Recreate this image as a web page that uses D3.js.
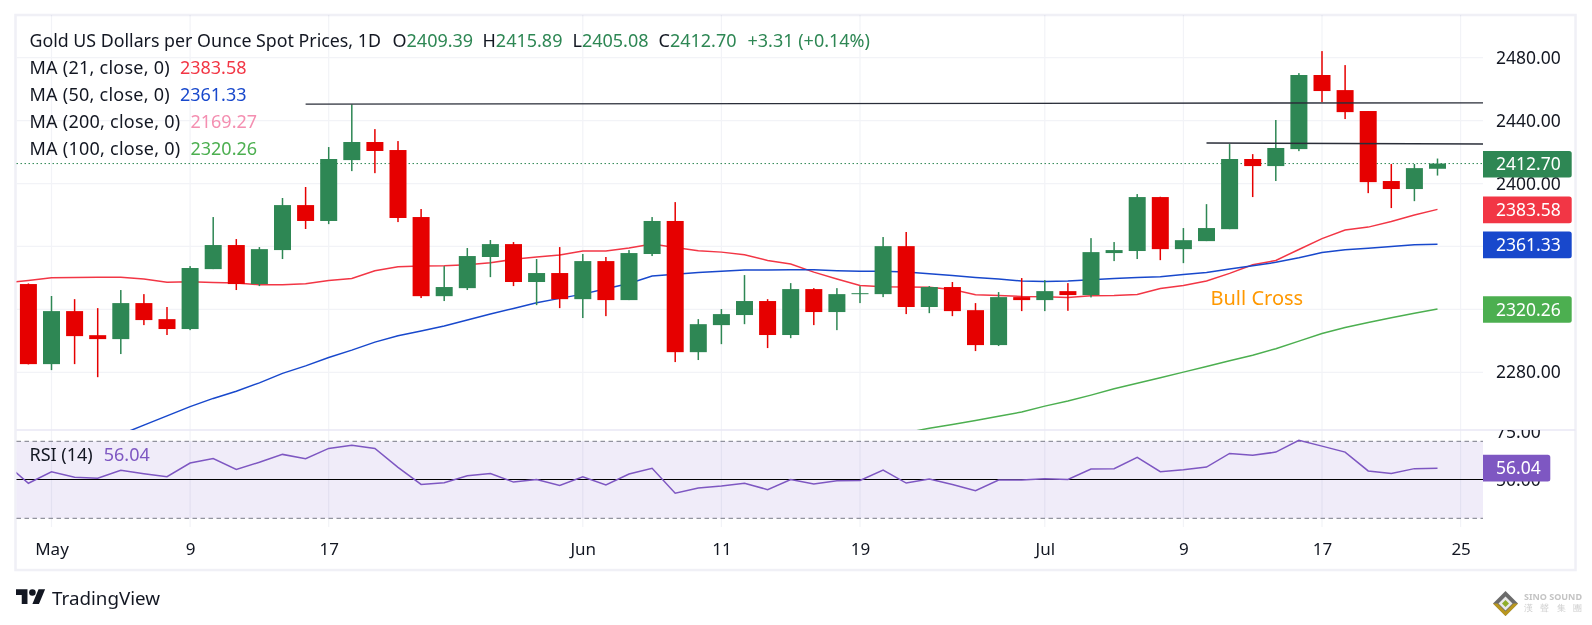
<!DOCTYPE html>
<html>
<head>
<meta charset="utf-8">
<script src="https://cdn.jsdelivr.net/npm/d3@7"></script>
<style>
  html, body { margin: 0; padding: 0; background: #fff; overflow: hidden; }
  text { font-family: "Noto Sans", sans-serif; }
</style>
</head>
<body>
<div id="chart"></div>
<script>
// candles: open, high, low, close, one row per session starting Apr 30
const opens = [2336.1,2285.2,2318.9,2303.6,2301.1,2324.0,2313.8,2307.5,2345.6,2360.9,2336.1,2357.7,2386.3,2376.2,2414.9,2426.4,2421.3,2378.7,2328.4,2333.5,2353.3,2361.5,2337.4,2343.1,2326.5,2350.7,2325.9,2355.2,2376.2,2292.8,2310.0,2316.4,2325.3,2303.7,2332.9,2318.3,2329.9,2329.7,2360.2,2321.5,2334.2,2319.5,2297.3,2327.8,2325.9,2331.6,2329.1,2355.8,2357.1,2391.4,2358.3,2363.4,2371.0,2415.6,2411.1,2421.9,2469.0,2459.4,2446.1,2401.6,2396.5,2409.39];
const highs = [2336.5,2328.5,2326.5,2320.8,2332.3,2329.7,2321.5,2347.5,2378.7,2364.7,2359.6,2390.8,2397.8,2423.2,2450.3,2434.6,2427.0,2383.8,2347.5,2359.0,2364.1,2362.8,2352.0,2359.6,2355.2,2353.3,2357.7,2378.7,2388.2,2313.8,2320.2,2341.8,2326.5,2336.7,2333.5,2333.5,2334.8,2366.0,2369.2,2334.8,2337.4,2324.0,2331.0,2339.9,2338.6,2336.7,2365.3,2362.8,2393.3,2391.6,2371.7,2386.9,2425.1,2418.7,2440.4,2470.2,2484.2,2475.3,2446.1,2412.4,2412.4,2415.89];
const lows = [2285.0,2281.4,2285.2,2276.9,2291.6,2310.0,2303.7,2306.8,2345.6,2332.3,2334.8,2352.0,2371.1,2374.2,2407.9,2406.6,2375.5,2327.2,2325.3,2332.3,2340.5,2334.8,2322.7,2320.8,2314.5,2315.7,2325.9,2353.9,2286.5,2287.8,2297.9,2310.6,2295.4,2301.7,2310.0,2306.8,2324.0,2327.8,2317.0,2317.6,2315.7,2293.5,2296.7,2318.9,2318.9,2319.1,2327.6,2350.7,2352.0,2351.3,2349.4,2363.4,2371.0,2391.4,2401.6,2420.6,2451.8,2441.0,2393.9,2384.4,2388.8,2405.08];
const closes = [2285.2,2318.9,2303.0,2301.1,2324.0,2313.2,2307.5,2346.3,2360.9,2336.1,2358.3,2386.3,2376.2,2415.6,2426.4,2420.7,2378.1,2328.4,2334.2,2353.9,2361.5,2337.4,2343.1,2326.5,2350.7,2325.9,2355.8,2376.2,2292.8,2310.6,2317.0,2325.3,2303.7,2332.9,2318.3,2329.7,2330.3,2360.2,2321.5,2334.2,2318.9,2297.3,2327.8,2325.9,2331.6,2329.1,2356.4,2357.7,2391.4,2358.3,2364.0,2371.7,2415.6,2411.1,2422.6,2469.0,2458.8,2445.4,2400.9,2396.5,2409.8,2412.70];

// moving averages, each with the session index of its first value
const ma21Start = -1;
const ma21 = [2336.9,2338.4,2340.1,2340.2,2340.5,2340.5,2339.3,2337.3,2337.6,2337.1,2336.7,2335.7,2335.7,2336.3,2338.4,2339.7,2344.5,2347.1,2347.5,2347.7,2348.4,2349.6,2351.8,2353.3,2354.5,2357.1,2357.1,2359.0,2361.5,2359.4,2357.3,2356.4,2354.7,2351.1,2348.8,2343.7,2339.3,2335.2,2334.4,2334.2,2334.0,2332.7,2329.3,2328.9,2328.2,2328.0,2327.6,2328.7,2328.9,2329.5,2333.3,2335.2,2338.0,2342.9,2348.4,2351.1,2358.1,2365.0,2370.4,2372.3,2375.9,2380.0,2383.58];
const ma50Start = 3;
const ma50 = [2235.0,2240.5,2246.4,2252.3,2258.2,2263.4,2268.0,2273.3,2279.3,2284.1,2289.4,2294.1,2299.2,2303.2,2306.2,2309.4,2313.2,2317.0,2320.6,2324.2,2327.0,2329.7,2333.1,2336.5,2341.2,2342.4,2343.5,2344.3,2345.0,2345.1,2345.2,2345.2,2344.6,2344.3,2344.3,2343.7,2342.7,2341.6,2340.3,2339.3,2338.0,2337.8,2338.0,2338.8,2339.7,2340.3,2340.8,2342.2,2343.5,2345.6,2347.8,2349.9,2352.8,2356.1,2357.9,2358.8,2360.0,2361.1,2361.33];
const ma100Start = 38;
const ma100 = [2241.5,2244.5,2246.8,2249.4,2252.1,2254.7,2258.5,2261.7,2265.5,2269.5,2273.1,2276.5,2280.1,2283.7,2287.3,2290.9,2295.0,2299.8,2304.7,2308.5,2311.7,2314.7,2317.6,2320.26];
const rsiStart = -1;
const rsi = [58.7,48.2,54.2,51.3,50.8,54.9,53.2,51.6,58.7,61.0,55.4,59.1,63.2,61.0,66.3,67.9,66.3,56.5,47.6,48.5,52.1,53.3,48.8,50.1,47.0,51.6,47.3,53.0,56.0,43.0,45.7,46.8,48.2,44.9,50.1,47.8,49.5,49.7,55.1,48.3,50.4,47.6,44.3,49.9,49.9,50.6,50.2,55.6,55.8,61.7,54.2,55.2,56.6,63.7,62.7,64.4,70.5,67.5,64.4,54.6,53.3,55.8,56.04];

// axes
const priceTicks = [2280, 2320, 2360, 2400, 2440, 2480];
const rsiTicks = [75, 50];
const dateTickIndex = [1, 7, 13, 24, 30, 36, 44, 50, 56, 62];
const dateTickLabels = ["May", "9", "17", "Jun", "11", "19", "Jul", "9", "17", "25"];

// drawn trend lines: first session index and price, then the price at the axis
const trendLines = [
  { from: [12, 2450.5], to: 2451.3 },
  { from: [51, 2425.8], to: 2425.1 }
];

const legendRows = [
  { name: "MA (21, close, 0)", value: "2383.58", color: "#f23645" },
  { name: "MA (50, close, 0)", value: "2361.33", color: "#1848cc" },
  { name: "MA (200, close, 0)", value: "2169.27", color: "#f48fb1" },
  { name: "MA (100, close, 0)", value: "2320.26", color: "#4caf50" }
];
const headerBits = [
  { x: 392.5, letter: "O", value: "2409.39" },
  { x: 482.5, letter: "H", value: "2415.89" },
  { x: 572.5, letter: "L", value: "2405.08" },
  { x: 658.5, letter: "C", value: "2412.70" }
];

const width = 1592, height = 625;
const paneLeft = 16.5, paneRight = 1483, frameRight = 1575.5, frameTop = 15, frameBottom = 570;
const dividerY = 430, gridBottom = 527;
const green = "#2e8754", red = "#e60000", ink = "#131722", gridColor = "#f2f3f7";

const x = d3.scaleLinear().domain([0, 62]).range([28.4, 1460.6]);
const y = d3.scaleLinear().domain([2280, 2480]).range([372.3, 57.7]);
const yRsi = d3.scaleLinear().domain([30, 70]).range([518.3, 441.3]);
const candleWidth = 17;

const svg = d3.select("#chart").append("svg")
  .attr("width", width).attr("height", height);

svg.append("rect").attr("width", width).attr("height", height).attr("fill", "#fff");

const defs = svg.append("defs");
defs.append("clipPath").attr("id", "priceClip").append("rect")
  .attr("x", paneLeft).attr("y", frameTop).attr("width", paneRight - paneLeft).attr("height", dividerY - frameTop);
defs.append("clipPath").attr("id", "rsiClip").append("rect")
  .attr("x", paneLeft).attr("y", dividerY).attr("width", paneRight - paneLeft).attr("height", gridBottom - dividerY);
// rsi axis labels live in a group moved to the pane right edge
defs.append("clipPath").attr("id", "rsiAxisClip").append("rect")
  .attr("x", 0).attr("y", dividerY).attr("width", 100).attr("height", gridBottom - dividerY);

// frame
svg.append("rect")
  .attr("x", 15.5).attr("y", frameTop).attr("width", frameRight - 15.5).attr("height", frameBottom - frameTop)
  .attr("fill", "none").attr("stroke", "#f0f0f6").attr("stroke-width", 2.5);

// RSI band goes under the grid
svg.append("rect")
  .attr("x", paneLeft).attr("y", yRsi(70)).attr("width", paneRight - paneLeft).attr("height", yRsi(30) - yRsi(70))
  .attr("fill", "#f0ecf9");

// grid
svg.append("g").selectAll("line").data(dateTickIndex).join("line")
  .attr("x1", d => x(d)).attr("x2", d => x(d))
  .attr("y1", frameTop).attr("y2", gridBottom)
  .attr("stroke", gridColor).attr("stroke-width", 1.2)
  .style("mix-blend-mode", "multiply");
svg.append("g").selectAll("line").data(priceTicks).join("line")
  .attr("x1", paneLeft).attr("x2", paneRight)
  .attr("y1", d => y(d)).attr("y2", d => y(d))
  .attr("stroke", gridColor).attr("stroke-width", 1.2);

svg.append("line")
  .attr("x1", paneLeft).attr("x2", frameRight).attr("y1", dividerY).attr("y2", dividerY)
  .attr("stroke", "#e9e7f5").attr("stroke-width", 1.5);

// last price dotted line
svg.append("line")
  .attr("x1", paneLeft).attr("x2", paneRight).attr("y1", y(2412.70)).attr("y2", y(2412.70))
  .attr("stroke", green).attr("stroke-width", 1).attr("stroke-dasharray", "1.5 2.5");

const pricePane = svg.append("g").attr("clip-path", "url(#priceClip)");

// moving averages sit under the candles
const maLine = start => d3.line().x((d, i) => x(start + i)).y(d => y(d));
[[ma21, ma21Start, "#f23645"], [ma50, ma50Start, "#1848cc"], [ma100, ma100Start, "#4caf50"]].forEach(s => {
  pricePane.append("path")
    .attr("d", maLine(s[1])(s[0]))
    .attr("fill", "none").attr("stroke", s[2]).attr("stroke-width", 1.5);
});

const candles = pricePane.append("g").selectAll("g").data(closes).join("g")
  .attr("fill", (d, i) => d >= opens[i] ? green : red);
candles.append("rect")
  .attr("x", (d, i) => x(i) - 0.75).attr("width", 1.5)
  .attr("y", (d, i) => y(highs[i]))
  .attr("height", (d, i) => y(lows[i]) - y(highs[i]));
candles.append("rect")
  .attr("x", (d, i) => x(i) - candleWidth / 2).attr("width", candleWidth)
  .attr("y", (d, i) => y(Math.max(opens[i], d)))
  .attr("height", (d, i) => Math.max(1, Math.abs(y(opens[i]) - y(d))));

// trend lines run out to the price axis
trendLines.forEach(t => {
  pricePane.append("line")
    .attr("x1", x(t.from[0])).attr("y1", y(t.from[1]))
    .attr("x2", paneRight).attr("y2", y(t.to))
    .attr("stroke", "#2a2e39").attr("stroke-width", 1.4);
});

pricePane.append("text")
  .attr("x", 1210.5).attr("y", 297.5).attr("dy", "0.35em")
  .attr("fill", "#ff9800").attr("font-size", 20)
  .text("Bull Cross");

// RSI pane
[70, 30].forEach(v => {
  svg.append("line")
    .attr("x1", paneLeft).attr("x2", paneRight).attr("y1", yRsi(v)).attr("y2", yRsi(v))
    .attr("stroke", "#787b86").attr("stroke-width", 1).attr("stroke-dasharray", "4.5 3.5");
});
svg.append("line")
  .attr("x1", paneLeft).attr("x2", paneRight).attr("y1", yRsi(50) - 0.3).attr("y2", yRsi(50) - 0.3)
  .attr("stroke", "#000").attr("stroke-width", 1.2);
svg.append("path")
  .attr("clip-path", "url(#rsiClip)")
  .attr("d", d3.line().x((d, i) => x(rsiStart + i)).y(d => yRsi(d))(rsi))
  .attr("fill", "none").attr("stroke", "#7e57c2").attr("stroke-width", 1.5);

// axes
const labelFont = 17.5;
const priceAxis = svg.append("g").attr("transform", `translate(${paneRight},0)`)
  .call(d3.axisRight(y).tickValues(priceTicks).tickSize(0).tickPadding(13).tickFormat(d3.format(".2f")));
// the 75 label is cut by the pane divider
const rsiAxis = svg.append("g").attr("transform", `translate(${paneRight},0)`)
  .attr("clip-path", "url(#rsiAxisClip)")
  .call(d3.axisRight(yRsi).tickValues(rsiTicks).tickSize(0).tickPadding(13).tickFormat(d3.format(".2f")));
const dateAxis = svg.append("g").attr("transform", "translate(0,543)")
  .call(d3.axisBottom(x).tickValues(dateTickIndex).tickSize(0).tickPadding(0)
    .tickFormat((d, i) => dateTickLabels[i]));
[priceAxis, rsiAxis, dateAxis].forEach(a => {
  a.select(".domain").remove();
  a.selectAll("text").attr("font-size", labelFont).attr("font-family", '"Noto Sans", sans-serif').attr("fill", ink);
});
dateAxis.selectAll("text").attr("font-size", 17);

// value tags on the price axis
function priceTag(value, cy, color, right) {
  const h = 26.6, top = cy - h / 2, r = 2.5;
  svg.append("path")
    .attr("d", `M${paneRight},${top}H${right - r}a${r},${r} 0 0 1 ${r},${r}V${top + h - r}a${r},${r} 0 0 1 ${-r},${r}H${paneRight}Z`)
    .attr("fill", color);
  svg.append("text")
    .attr("x", paneRight + 13).attr("y", cy).attr("dy", "0.35em")
    .attr("fill", "#fff").attr("font-size", labelFont)
    .text(value);
}
priceTag("2412.70", y(2412.70) + 0.7, green, 1571.7);
priceTag("2383.58", y(2383.58) + 0.5, "#f23645", 1571.7);
priceTag("2361.33", y(2361.33) + 0.5, "#1848cc", 1571.7);
priceTag("2320.26", y(2320.26) + 0.5, "#4caf50", 1571.7);
priceTag("56.04", yRsi(56.04), "#7e57c2", 1550.3);

// header and legend
const legendSize = 18;
svg.append("text").attr("x", 29.5).attr("y", 40.5).attr("dy", "0.35em")
  .attr("fill", ink).attr("font-size", 17.8)
  .text("Gold US Dollars per Ounce Spot Prices, 1D");
headerBits.forEach(b => {
  const t = svg.append("text").attr("x", b.x).attr("y", 40.5).attr("dy", "0.35em").attr("font-size", legendSize);
  t.append("tspan").attr("fill", ink).text(b.letter);
  t.append("tspan").attr("fill", green).text(b.value);
});
svg.append("text").attr("x", 747.5).attr("y", 40.5).attr("dy", "0.35em")
  .attr("fill", green).attr("font-size", legendSize)
  .text("+3.31 (+0.14%)");

legendRows.forEach((r, i) => {
  const t = svg.append("text").attr("x", 29.5).attr("y", 67.7 + i * 27).attr("dy", "0.35em")
    .attr("font-size", legendSize).attr("fill", ink);
  t.append("tspan").attr("letter-spacing", 0.25).text(r.name);
  t.append("tspan").attr("dx", 10).attr("fill", r.color).text(r.value);
});
const rsiLegend = svg.append("text").attr("x", 29.5).attr("y", 455).attr("dy", "0.35em")
  .attr("font-size", legendSize).attr("fill", ink);
rsiLegend.append("tspan").text("RSI (14)");
rsiLegend.append("tspan").attr("dx", 11).attr("fill", "#7e57c2").text("56.04");

// TradingView mark
const logo = svg.append("g").attr("transform", "translate(16,586) scale(0.82)").attr("fill", ink);
logo.append("path").attr("d", "M14 22H7V11H0V4h14v18zM28 22h-8l7.5-18h8L28 22z");
logo.append("circle").attr("cx", 20).attr("cy", 8).attr("r", 4);
svg.append("text").attr("x", 52).attr("y", 598.5).attr("dy", "0.35em")
  .attr("fill", ink).attr("font-size", 18.8).text("TradingView");

// watermark bottom right
const mark = svg.append("g").attr("transform", "translate(1505.5,603.5)");
mark.append("path").attr("d", "M0,-12.5L12.5,0L0,12.5L-12.5,0Z").attr("fill", "#6b6b6b");
mark.append("path").attr("d", "M-12.5,0L0,12.5L12.5,0L8,0L0,8L-8,0Z").attr("fill", "#b9971f");
mark.append("path").attr("d", "M0,-7L7,0L0,7L-7,0Z").attr("fill", "#e9e9e9");
mark.append("path").attr("d", "M0,-3.5L3.5,0L0,3.5L-3.5,0Z").attr("fill", "#8fae2a");
svg.append("text").attr("x", 1524).attr("y", 597).attr("dy", "0.35em")
  .attr("fill", "#c4c4c4").attr("font-size", 9).attr("font-weight", 700)
  .attr("textLength", 58).attr("lengthAdjust", "spacingAndGlyphs").text("SINO SOUND");
svg.append("text").attr("x", 1524).attr("y", 608.5).attr("dy", "0.35em")
  .attr("fill", "#cfcfcf").attr("font-size", 8.5).attr("font-family", '"Noto Sans CJK TC"')
  .attr("textLength", 58).text("漢 聲 集 團");
</script>
</body>
</html>
